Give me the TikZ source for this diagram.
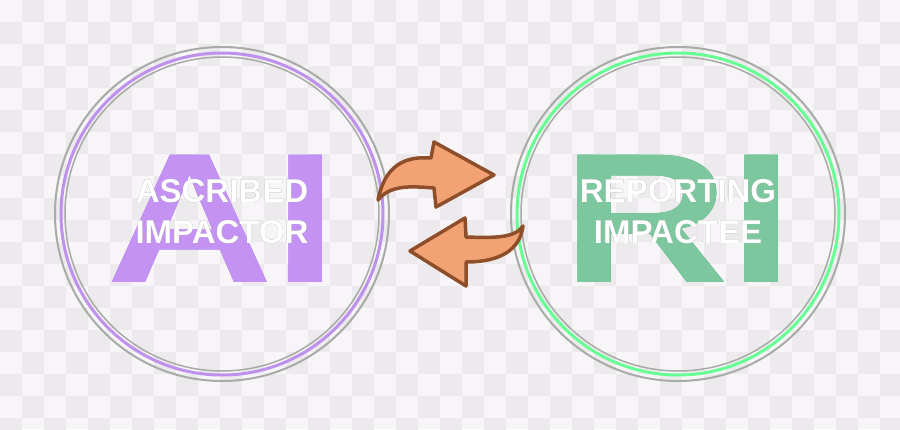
\documentclass[tikz,border=0pt]{standalone}
\usepackage{fontspec}
\setmainfont{Liberation Sans}
\usepackage{graphicx}
\usepackage[outline]{contour}
\definecolor{chkA}{HTML}{F7F5F7}
\definecolor{chkB}{HTML}{ECEAEC}
\definecolor{aiFill}{HTML}{C392F2}
\definecolor{aiLine}{HTML}{A262E4}
\definecolor{riFill}{HTML}{7CC79E}
\definecolor{riLine}{HTML}{2E9E62}
\definecolor{ringGray}{HTML}{A8ABA6}
\definecolor{arrFill}{HTML}{F3A373}
\definecolor{arrLine}{HTML}{8E4E2A}
\newcommand{\bigpair}[2]{\contourlength{2.2pt}%
    \scalebox{1.25}[1]{\contour{#1}{#2}}}
\newcommand{\capline}[1]{\contourlength{1.8pt}\contour{gray!90}{#1}}
\begin{document}
\begin{tikzpicture}[x=1pt, y=-1pt]
    \tikzstyle{bigletters} = [font=\bfseries\fontsize{185}{185}\selectfont,
    inner sep=0pt]
    \tikzstyle{caption} = [font=\bfseries\fontsize{33}{35}\selectfont,
    align=center, inner sep=0pt, text=white]
    \tikzstyle{swap} = [draw=arrLine, fill=arrFill, line width=3.5pt,
    line join=round]
    \useasboundingbox (0,0) rectangle (900,429);
    % checkered background
    \fill[chkA] (0,0) rectangle (900,429);
    \foreach \i in {0,...,40} {
        \foreach \j in {0,...,19} {
            \pgfmathtruncatemacro{\odd}{mod(\i+\j,2)}
            \ifnum\odd=1
                \fill[chkB] (\i*22,\j*22) rectangle ++(22,22);
            \fi
        }
    }
    % circles
    \coordinate (leftc) at (222,214);
    \coordinate (rightc) at (678,214);
    \draw[ringGray, line width=2pt] (leftc) circle (167);
    \draw[aiLine!70, line width=3pt] (leftc) circle (161);
    \draw[ringGray, line width=1.5pt] (leftc) circle (157);
    \draw[ringGray, line width=2pt] (rightc) circle (167);
    \draw[green!70!cyan!60, line width=3pt] (rightc) circle (161);
    \draw[ringGray, line width=1.5pt] (rightc) circle (157);
    % letters
    \node [bigletters, text=aiFill] (ai) at (222,219) {\bigpair{aiLine}{AI}};
    \node [bigletters, text=riFill] (ri) at (678,219) {\bigpair{riLine}{RI}};
    \node [caption] (ascribed) at (222,212) {\capline{ASCRIBED}\\[6pt]
    \capline{IMPACTOR}};
    \node [caption] (reporting) at (678,212) {\capline{REPORTING}\\[6pt]
    \capline{IMPACTEE}};
    % swap arrows
    \path [swap] (378,200) .. controls (390,185) and (410,186) .. (434,188)
    -- (436,207) -- (494,175) -- (434,142) -- (431,158)
    .. controls (405,156) and (385,165) .. (378,200) -- cycle;
    \path [swap] (523,226) .. controls (515,238) and (495,238) .. (466,237)
    -- (465,218) -- (410,251) -- (466,286) -- (466,262)
    .. controls (500,262) and (520,250) .. (523,226) -- cycle;
\end{tikzpicture}
\end{document}
